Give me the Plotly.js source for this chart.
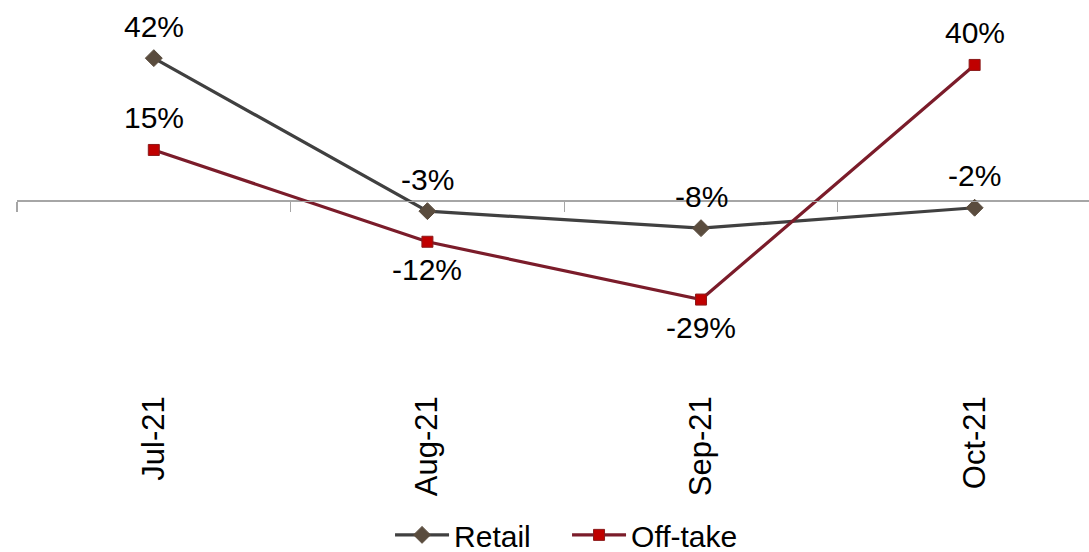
<!DOCTYPE html>
<html>
<head>
<meta charset="utf-8">
<script src="https://cdn.plot.ly/plotly-3.0.1.min.js"></script>
<style>html,body{margin:0;padding:0;background:#fff}#chart{width:1089px;height:552px}</style>
</head>
<body>
<div id="chart"></div>
<script>
const categories = ["Jul-21", "Aug-21", "Sep-21", "Oct-21"];
const retail = [42, -3, -8, -2];
const offtake = [15, -12, -29, 40];
const retailLabels = ["42%", "-3%", "-8%", "-2%"];
const offtakeLabels = ["15%", "-12%", "-29%", "40%"];
const retailAbove = [true, true, true, true];
const offtakeAbove = [true, false, false, true];

const FONT = "Liberation Sans, Arial, sans-serif";
const yMin = -55.3, yMax = 59.1;
const xRange = [-0.5, 3.418];
const boundaryTicks = [-0.5, 0.5, 1.5, 2.5, 3.5];

const traces = [
  {
    x: categories, y: retail, name: "Retail", type: "scatter", mode: "lines+markers",
    line: {color: "#404040", width: 3.2},
    marker: {symbol: "diamond", size: 13, color: "#5a4c3e", line: {color: "#5a4c3e", width: 1}},
    cliponaxis: false
  },
  {
    x: categories, y: offtake, name: "Off-take", type: "scatter", mode: "lines+markers",
    line: {color: "#7b1c2a", width: 3.2},
    marker: {symbol: "square", size: 11, color: "#c00000", line: {color: "#8b1a1a", width: 1}},
    cliponaxis: false
  },
  {
    x: boundaryTicks, y: [null, null, null, null, null], xaxis: "x2", yaxis: "y",
    type: "scatter", mode: "markers", showlegend: false, hoverinfo: "skip",
    marker: {opacity: 0}
  }
];

function labelAnnotations(values, labels, above) {
  return values.map((v, i) => ({
    x: categories[i], y: v, xref: "x", yref: "y",
    text: labels[i], showarrow: false,
    xanchor: "center", yanchor: "middle",
    yshift: above[i] ? 32 : -28,
    font: {family: FONT, size: 30, color: "#000"}
  }));
}

const layout = {
  width: 1089, height: 552,
  margin: {l: 17, r: 0, t: 0, b: 163},
  paper_bgcolor: "#fff", plot_bgcolor: "#fff",
  font: {family: FONT, size: 30, color: "#000"},
  showlegend: true,
  legend: {orientation: "h", xref: "container", yref: "container",
           x: 0.5207, xanchor: "center", y: 0.031, yanchor: "middle",
           font: {family: FONT, size: 30, color: "#000"}, itemwidth: 54,
           entrywidth: 108, entrywidthmode: "pixels", tracegroupgap: 0},
  annotations: labelAnnotations(retail, retailLabels, retailAbove)
    .concat(labelAnnotations(offtake, offtakeLabels, offtakeAbove)),
  xaxis: {
    type: "category", range: xRange, autorange: false, automargin: false,
    showline: false, showgrid: false, zeroline: false, ticks: "",
    tickangle: -90, ticklabelstandoff: 0, tickfont: {family: FONT, size: 31, color: "#000"}
  },
  xaxis2: {
    overlaying: "x", anchor: "free", side: "bottom", automargin: false,
    position: (0 - yMin) / (yMax - yMin),
    type: "linear", range: xRange, autorange: false,
    tickmode: "array", tickvals: boundaryTicks,
    showticklabels: false, ticks: "outside", ticklen: 10, tickwidth: 1.3, tickcolor: "#a6a6a6",
    showline: true, linecolor: "#a6a6a6", linewidth: 1.5, showgrid: false, zeroline: false
  },
  yaxis: {
    range: [yMin, yMax], autorange: false, automargin: false,
    showline: false, showgrid: false, showticklabels: false, ticks: "",
    zeroline: true, zerolinecolor: "#a6a6a6", zerolinewidth: 1.5
  }
};

Plotly.newPlot("chart", traces, layout, {displayModeBar: false, staticPlot: true});
</script>
</body>
</html>
